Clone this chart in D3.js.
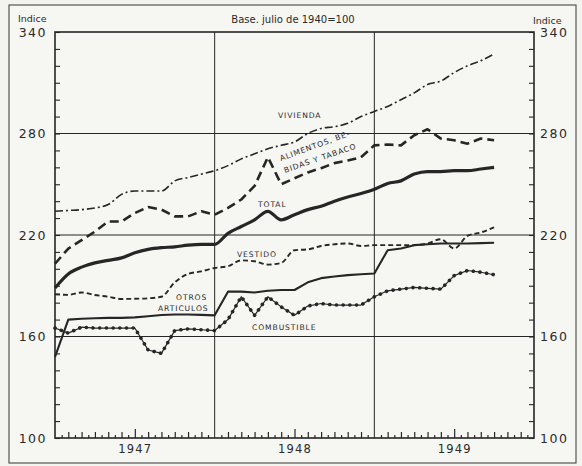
<!DOCTYPE html>
<html>
<head>
<meta charset="utf-8">
<script src="https://cdn.jsdelivr.net/npm/d3@7"></script>
<style>
  html, body { margin: 0; padding: 0; background: #f3f3f0; }
  svg { display: block; }
  text { font-family: "DejaVu Sans", sans-serif; fill: #2a2a2a; }
</style>
</head>
<body>
<svg id="chart" width="582" height="466"></svg>
<script>
// Monthly data, January 1947 to October 1949 (index 0 = Jan 1947)
const years = ["1947", "1948", "1949"];
const yLabels = [100, 160, 220, 280, 340];

const vivienda = [234, 234.5, 235, 236, 238, 244, 246, 246, 246, 252, 254, 256,
  258, 261, 265, 268, 271, 273, 275, 280, 283, 284, 286, 290,
  293, 296, 300, 304, 309, 311, 316, 320, 323, 327];

const alimentos = [203, 212, 217, 222, 228, 228, 233, 236.5, 235, 231, 231, 234,
  232, 236, 241, 249, 266, 250, 253.5, 257, 259.5, 262.5, 264, 266,
  273, 273.5, 273, 279, 282.5, 277, 276, 274, 277, 276];

const total = [188.7, 197, 201, 203.5, 205, 206.5, 209.5, 211.5, 212.5, 213, 214, 214.5,
  214.5, 221, 225, 229, 234, 229, 232, 235, 237, 240, 242.5, 244.5,
  247, 250.5, 252, 256, 257.5, 257.5, 258, 258, 259, 260];

const vestido = [185, 184.6, 186, 184.5, 183.5, 182.2, 182.3, 182.6, 183.5, 192, 197, 198.5,
  200.5, 201.5, 205, 204.5, 202.5, 203.5, 211, 211.5, 213.5, 214.5, 215, 213.5,
  214, 214, 214, 214, 215, 217.5, 212, 219.5, 221.5, 224.5];

const otros = [148, 170, 170.5, 170.8, 171, 171, 171.3, 172, 172.7, 173, 173, 172.8,
  172.5, 186.5, 186.5, 186, 187, 187.5, 187.5, 192, 194.5, 195.5, 196.3, 196.8,
  197.2, 211, 212, 214, 214.5, 215, 215, 215, 215.2, 215.4];

const combustible = [165, 162, 165.5, 165, 165, 165, 165, 152, 150, 163.5, 164.5, 164,
  163.5, 170, 183.5, 172.5, 183.5, 177.5, 172.5, 178, 179.5, 178.6, 178.6, 178.6,
  183.5, 187, 188, 189, 188.5, 188, 196, 199, 198, 196.5];

const svg = d3.select("#chart");
const ink = "#262626";

const x = d3.scaleLinear().domain([0, 36]).range([55, 534]);
const y = d3.scaleLinear().domain([100, 340]).range([438, 32]);

// outer frame
svg.append("rect").attr("x", 9).attr("y", 5).attr("width", 567).attr("height", 458)
  .attr("fill", "#f6f6f3").attr("stroke", "#555").attr("stroke-width", 1.2);

// gridlines
const grid = svg.append("g").attr("stroke", ink).attr("stroke-width", 1);
[160, 220, 280].forEach(v => grid.append("line")
  .attr("x1", x(0)).attr("x2", x(36)).attr("y1", y(v)).attr("y2", y(v)));
[12, 24].forEach(m => grid.append("line")
  .attr("x1", x(m)).attr("x2", x(m)).attr("y1", y(100)).attr("y2", y(340)));

// plot frame
svg.append("rect").attr("x", x(0)).attr("y", y(340))
  .attr("width", x(36) - x(0)).attr("height", y(100) - y(340))
  .attr("fill", "none").attr("stroke", ink).attr("stroke-width", 1.6);

// left axis: minor inward ticks
const minor = d3.range(100, 341, 10);
svg.append("g").attr("transform", `translate(${x(0)},0)`)
  .call(d3.axisLeft(y).tickValues(minor).tickSize(-5).tickFormat(""))
  .call(g => g.select(".domain").remove())
  .call(g => g.selectAll("line").attr("stroke", ink).attr("stroke-width", 1.1));
svg.append("g").attr("transform", `translate(${x(0)},0)`)
  .call(d3.axisLeft(y).tickValues(yLabels).tickSize(0).tickPadding(8))
  .call(g => g.select(".domain").remove())
  .call(g => g.selectAll("text").style("font-size", "12.5px").attr("letter-spacing", "1.5")
      .attr("fill", ink).attr("dy", "0.32em"));

// right axis
svg.append("g").attr("transform", `translate(${x(36)},0)`)
  .call(d3.axisRight(y).tickValues(minor).tickSize(-5).tickFormat(""))
  .call(g => g.select(".domain").remove())
  .call(g => g.selectAll("line").attr("stroke", ink).attr("stroke-width", 1.1));
svg.append("g").attr("transform", `translate(${x(36)},0)`)
  .call(d3.axisRight(y).tickValues(yLabels).tickSize(0).tickPadding(6))
  .call(g => g.select(".domain").remove())
  .call(g => g.selectAll("text").style("font-size", "12.5px").attr("letter-spacing", "1.5")
      .attr("fill", ink).attr("dy", "0.32em"));

// bottom axis: half-month ticks, inward
const halfTicks = d3.range(0.5, 36, 0.5).filter(v => v % 12 !== 0);
svg.append("g").attr("transform", `translate(0,${y(100)})`)
  .call(d3.axisBottom(x).tickValues(halfTicks)
    .tickSize(0).tickFormat(""))
  .call(g => g.select(".domain").remove())
  .call(g => g.selectAll(".tick line")
    .attr("y2", d => (d % 6 === 0) ? -9 : (d % 1 === 0 ? -6 : -3))
    .attr("stroke", ink).attr("stroke-width", 1.2));
svg.append("g").attr("transform", `translate(0,${y(100)})`)
  .call(d3.axisBottom(x).tickValues([6, 18, 30]).tickSize(0).tickPadding(7)
    .tickFormat((d, i) => years[i]))
  .call(g => g.select(".domain").remove())
  .call(g => g.selectAll("text").style("font-size", "11.5px").attr("letter-spacing", "1.2").attr("fill", ink));

// header texts
svg.append("text").attr("x", 18).attr("y", 22).text("Indice").style("font-size", "9.5px");
svg.append("text").attr("x", 533).attr("y", 24).text("Indice").style("font-size", "9.5px");
svg.append("text").attr("x", 293).attr("y", 23).attr("text-anchor", "middle")
  .text("Base. julio de 1940=100").style("font-size", "10px");

// series
const line = d3.line().x((d, i) => x(i)).y(d => y(d)).curve(d3.curveMonotoneX);
const plot = svg.append("g").attr("fill", "none").attr("stroke", ink)
  .attr("stroke-linecap", "butt").attr("stroke-linejoin", "round");

plot.append("path").datum(vivienda).attr("d", line)
  .attr("stroke-width", 1.6).attr("stroke-dasharray", "8 3 2 3");
plot.append("path").datum(alimentos).attr("d", d3.line().x((d, i) => x(i)).y(d => y(d)))
  .attr("stroke-width", 2.6).attr("stroke-dasharray", "9 5");
plot.append("path").datum(total).attr("d", line).attr("stroke-width", 3.2);
plot.append("path").datum(vestido).attr("d", line)
  .attr("stroke-width", 1.9).attr("stroke-dasharray", "5 3");
plot.append("path").datum(otros).attr("d", d3.line().x((d, i) => x(i)).y(d => y(d)))
  .attr("stroke-width", 2.1);
const combLine = d3.line().x((d, i) => x(i)).y(d => y(d));
plot.append("path").datum(combustible).attr("d", combLine).attr("stroke-width", 1.2);
plot.append("path").datum(combustible).attr("d", combLine)
  .attr("stroke-width", 3.6).attr("stroke-linecap", "round").attr("stroke-dasharray", "0.1 6.6");

// series labels
const lab = svg.append("g").style("font-size", "7.6px").attr("letter-spacing", "0.9");
lab.append("text").attr("x", 278).attr("y", 118).text("VIVIENDA");
lab.append("text").attr("transform", "translate(281,161) rotate(-20)").text("ALIMENTOS, BE-");
lab.append("text").attr("transform", "translate(285,173) rotate(-19)").text("BIDAS Y TABACO");
lab.append("text").attr("x", 258).attr("y", 207).text("TOTAL");
lab.append("text").attr("x", 237).attr("y", 257).text("VESTIDO");
lab.append("text").attr("x", 176).attr("y", 300).text("OTROS");
lab.append("text").attr("x", 158).attr("y", 311).text("ARTICULOS");
lab.append("text").attr("x", 252).attr("y", 330).text("COMBUSTIBLE");
</script>
</body>
</html>
